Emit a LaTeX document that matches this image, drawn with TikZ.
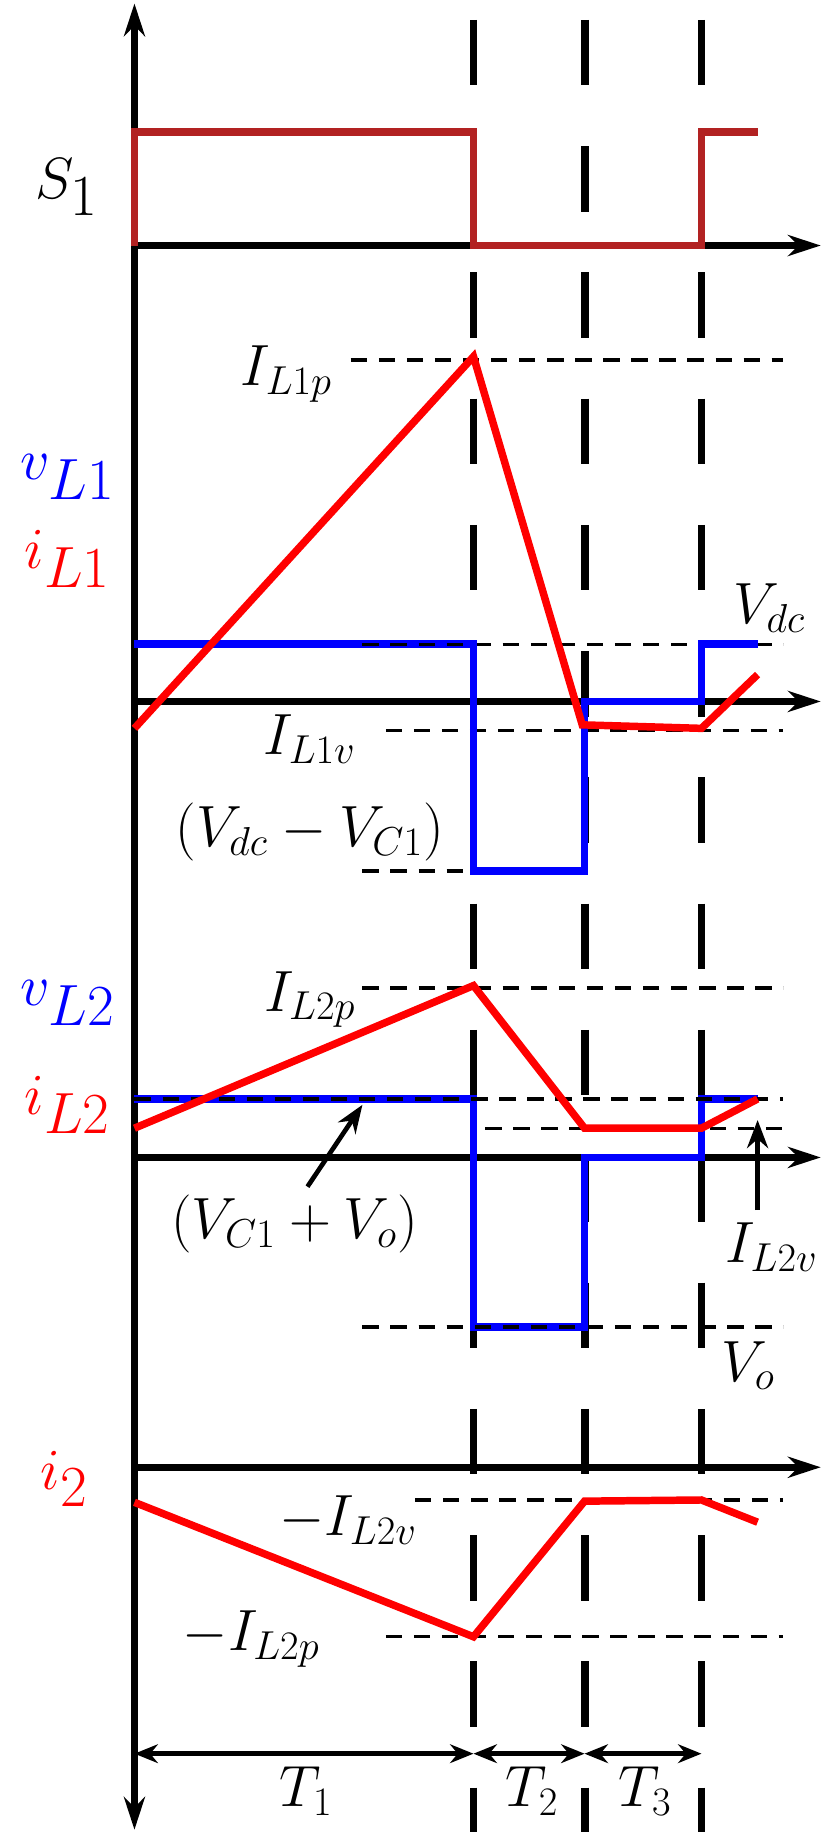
\documentclass[tikz,border=0pt]{standalone}
\usetikzlibrary{arrows.meta}
\begin{document}
\begin{tikzpicture}[x=0.5pt,y=-0.5pt,
  ax/.style={line width=2.8pt,-{Stealth[length=14pt,width=9pt]}},
  vdash/.style={line width=3.4pt,dash pattern=on 28pt off 26pt},
  hdash/.style={line width=1.4pt,dash pattern=on 7pt off 5pt},
  wave/.style={line width=3.2pt},
  lab/.style={font=\fontsize{26}{30}\selectfont,inner sep=0pt},
  big/.style={font=\fontsize{33}{36}\selectfont,inner sep=0pt},
  tarr/.style={line width=2.4pt,{Stealth[length=10pt,width=8pt]}-{Stealth[length=10pt,width=8pt]}}]
\definecolor{brick}{RGB}{178,34,34}
\useasboundingbox (0,0) rectangle (710,1567);
% vertical axis
\coordinate (top) at (115,3);
\coordinate (bot) at (115,1565);
\draw[line width=2.8pt,{Stealth[length=14pt,width=9pt]}-{Stealth[length=14pt,width=9pt]}] (bot) -- (top);
% dashed verticals
\foreach \x in {405,500,600} \draw[vdash] (\x,17) -- (\x,1567);
% S1
\draw[ax] (115,210) -- (702,210);
\draw[wave,brick] (115,210) -- (115,113) -- (405,113) -- (405,210) -- (600,210) -- (600,113) -- (648,113);
\node[big] (s1) at (57,160) {$S_1$};
% section 2
\draw[hdash] (300,308) -- (670,308);
\draw[hdash] (310,551) -- (670,551);
\draw[hdash] (330,625) -- (670,625);
\draw[hdash] (310,745) -- (500,745);
\draw[ax] (115,600) -- (702,600);
\draw[wave,blue] (115,551) -- (405,551) -- (405,745) -- (500,745) -- (500,600) -- (600,600) -- (600,551) -- (648,551);
\draw[wave,red] (115,623) -- (405,305) -- (498,620) -- (600,623) -- (648,577);
\draw[hdash] (310,551) -- (405,551);
\node[lab] (il1p) at (245,320) {$I_{L1p}$};
\node[big,blue] (vl1) at (58,408) {$v_{L1}$};
\node[big,red] (il1) at (58,478) {$i_{L1}$};
\node[lab] (vdc) at (658,520) {$V_{dc}$};
\node[lab] (il1v) at (265,632) {$I_{L1v}$};
\node[lab] (vdvc) at (265,712) {$(V_{dc}-V_{C1})$};
% section 3
\draw[hdash] (310,845) -- (670,845);
\draw[hdash] (415,965) -- (670,965);
\draw[hdash] (310,1135) -- (670,1135);
\draw[ax] (115,990) -- (702,990);
\draw[wave,blue] (115,940) -- (405,940) -- (405,1135) -- (500,1135) -- (500,990) -- (600,990) -- (600,940) -- (648,940);
\draw[hdash] (115,940) -- (670,940);
\draw[hdash] (310,1135) -- (500,1135);
\draw[wave,red] (115,965) -- (405,843) -- (500,965) -- (600,965) -- (648,940);
\node[lab] (il2p) at (265,855) {$I_{L2p}$};
\node[big,blue] (vl2) at (58,858) {$v_{L2}$};
\node[big,red] (il2) at (58,945) {$i_{L2}$};
\node[lab] (vcvo) at (252,1047) {$(V_{C1}+V_o)$};
\coordinate (aend) at (310,945);
\draw[line width=2pt,-{Stealth[length=12pt,width=9pt]}] (263,1015) -- (aend);
\node[lab] (il2v) at (660,1067) {$I_{L2v}$};
\coordinate (bend) at (648,958);
\draw[line width=2pt,-{Stealth[length=12pt,width=9pt]}] (648,1035) -- (bend);
\node[lab] (vo) at (640,1168) {$V_o$};
% section 4
\draw[hdash] (355,1283) -- (670,1283);
\draw[hdash] (330,1400) -- (670,1400);
\draw[ax] (115,1255) -- (702,1255);
\draw[wave,red] (115,1285) -- (405,1400) -- (500,1284) -- (600,1283) -- (648,1302);
\node[big,red] (i2) at (55,1265) {$i_2$};
\node[lab] (ml2v) at (298,1300) {$-I_{L2v}$};
\node[lab] (ml2p) at (215,1402) {$-I_{L2p}$};
% intervals
\coordinate (t0) at (115,1500);
\coordinate (t1) at (405,1500);
\coordinate (t2) at (500,1500);
\coordinate (t3) at (600,1500);
\draw[tarr] (t0) -- (t1);
\draw[tarr] (t1) -- (t2);
\draw[tarr] (t2) -- (t3);
\node[lab] (T1) at (262,1532) {$T_1$};
\node[lab] (T2) at (455,1532) {$T_2$};
\node[lab] (T3) at (552,1532) {$T_3$};
\end{tikzpicture}
\end{document}
